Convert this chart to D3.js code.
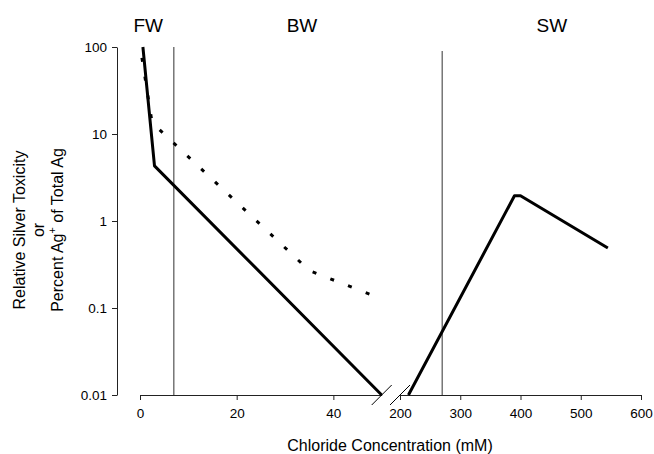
<!DOCTYPE html>
<html>
<head>
<meta charset="utf-8">
<script src="https://cdn.jsdelivr.net/npm/d3@7"></script>
<style>
  html, body { margin: 0; padding: 0; background: #fff; }
  text { font-family: "Liberation Sans", Arial, Helvetica, sans-serif; fill: #000; }
</style>
</head>
<body>
<svg id="chart" width="654" height="454"></svg>
<script>
// ---- data ----
const yTickValues = [0.01, 0.1, 1, 10, 100];
const yTickLabels = ["0.01", "0.1", "1", "10", "100"];
const xLeftTicks = [0, 20, 40];
const xRightTicks = [200, 300, 400, 500, 600];
// Relative silver toxicity (solid), low-chloride part
const toxLeftX = [0.6, 3.0, 50];
const toxLeftY = [100, 4.3, 0.01];
// Relative silver toxicity (solid), high-chloride part
const toxRightX = [214, 390, 400, 545];
const toxRightY = [0.01, 1.95, 1.95, 0.49];
// Percent Ag+ of total Ag (dotted)
const agX = [0.4, 2.5, 35, 50];
const agY = [75, 13.5, 0.27, 0.127];
// Salinity zone boundaries (mM)
const fwBwBoundary = 7;
const bwSwBoundary = 270;
const zoneNames = ["FW", "BW", "SW"];
const zoneCenters = [1.7, 33.5, 452];
const zoneSide = ["left", "left", "right"];

// ---- layout ----
const svg = d3.select("#chart");
const yAxisX = 117;
const xAxisY = 395;

const y = d3.scaleLog().domain([0.01, 100]).range([395, 47]);
const xL = d3.scaleLinear().domain([0, 50]).range([140, 381.7]);
const xR = d3.scaleLinear().domain([200, 600]).range([400, 641]);

const axisColor = "#222";

// y axis
const yAxis = d3.axisLeft(y)
  .tickValues(yTickValues)
  .tickFormat((d, i) => yTickLabels[i])
  .tickSize(5).tickSizeOuter(0).tickPadding(5);
const gy = svg.append("g").attr("transform", `translate(${yAxisX},0)`).call(yAxis);
gy.selectAll("text").style("font-size", "13.5px").style("font-family", "Liberation Sans, Arial, sans-serif");

// x axes
const xAxisL = d3.axisBottom(xL).tickValues(xLeftTicks).tickFormat(d3.format("d"))
  .tickSize(5).tickSizeOuter(0).tickPadding(8);
const xAxisR = d3.axisBottom(xR).tickValues(xRightTicks).tickFormat(d3.format("d"))
  .tickSize(5).tickSizeOuter(0).tickPadding(8);
const gxl = svg.append("g").attr("transform", `translate(0,${xAxisY})`).call(xAxisL);
const gxr = svg.append("g").attr("transform", `translate(0,${xAxisY})`).call(xAxisR);
[gy, gxl, gxr].forEach(g => {
  g.selectAll("path, line").attr("stroke", axisColor).attr("stroke-width", 1);
  g.selectAll("text").style("font-size", "13.5px").style("font-family", "Liberation Sans, Arial, sans-serif").attr("fill", "#000");
});

// zone boundary lines
svg.append("line")
  .attr("x1", xL(fwBwBoundary)).attr("x2", xL(fwBwBoundary))
  .attr("y1", y(100)).attr("y2", y(0.01))
  .attr("stroke", "#444").attr("stroke-width", 1.1);
svg.append("line")
  .attr("x1", xR(bwSwBoundary)).attr("x2", xR(bwSwBoundary))
  .attr("y1", y(100) + 4).attr("y2", y(0.01))
  .attr("stroke", "#444").attr("stroke-width", 1.1);

// axis break marks
[xL(50), xR(200)].forEach(cx => {
  svg.append("line")
    .attr("x1", cx - 10).attr("y1", xAxisY + 10)
    .attr("x2", cx + 10).attr("y2", xAxisY - 10)
    .attr("stroke", "#000").attr("stroke-width", 1);
});

// series
const lineL = d3.line().x(d => xL(d[0])).y(d => y(d[1]));
const lineR = d3.line().x(d => xR(d[0])).y(d => y(d[1]));

svg.append("path")
  .datum(agX.map((v, i) => [v, agY[i]]))
  .attr("d", lineL)
  .attr("fill", "none").attr("stroke", "#000").attr("stroke-width", 3)
  .attr("stroke-dasharray", "4,15");

svg.append("path")
  .datum(toxLeftX.map((v, i) => [v, toxLeftY[i]]))
  .attr("d", lineL)
  .attr("fill", "none").attr("stroke", "#000").attr("stroke-width", 3)
  .attr("stroke-linejoin", "round");

svg.append("path")
  .datum(toxRightX.map((v, i) => [v, toxRightY[i]]))
  .attr("d", lineR)
  .attr("fill", "none").attr("stroke", "#000").attr("stroke-width", 3)
  .attr("stroke-linejoin", "round");

// zone labels
zoneNames.forEach((name, i) => {
  const sx = zoneSide[i] === "left" ? xL : xR;
  svg.append("text")
    .attr("x", sx(zoneCenters[i])).attr("y", 32)
    .attr("text-anchor", "middle")
    .style("font-size", "19px")
    .text(name);
});

// x title
svg.append("text")
  .attr("x", 390).attr("y", 451)
  .attr("text-anchor", "middle")
  .style("font-size", "16px")
  .text("Chloride Concentration (mM)");

// y title (three lines, rotated)
const yt = svg.append("g").attr("transform", "translate(0,230) rotate(-90)");
yt.append("text").attr("x", 0).attr("y", 25).attr("text-anchor", "middle")
  .style("font-size", "16px").text("Relative Silver Toxicity");
yt.append("text").attr("x", 0).attr("y", 44).attr("text-anchor", "middle")
  .style("font-size", "16px").text("or");
const t3 = yt.append("text").attr("x", 0).attr("y", 63).attr("text-anchor", "middle")
  .style("font-size", "16px");
t3.append("tspan").text("Percent Ag");
t3.append("tspan").attr("dy", -7).style("font-size", "11px").text("+");
t3.append("tspan").attr("dy", 7).text(" of Total Ag");
</script>
</body>
</html>
